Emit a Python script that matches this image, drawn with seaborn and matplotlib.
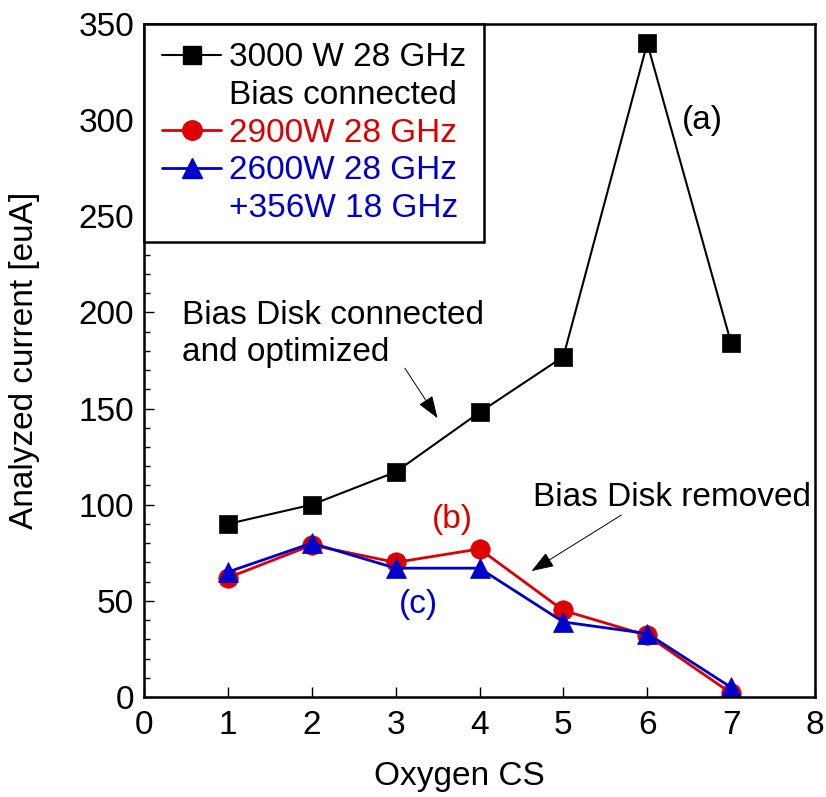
import matplotlib
matplotlib.use("Agg")
import matplotlib.pyplot as plt
from matplotlib.lines import Line2D
from matplotlib.ticker import MultipleLocator
import numpy as np
import pandas as pd
import seaborn as sns

# Oxygen charge states and analysed currents [euA]
charge_states = [1, 2, 3, 4, 5, 6, 7]
current_3000w_bias = [90, 100, 117, 148, 177, 340, 184]
current_2900w = [62, 79, 70, 77, 45, 32, 2]
current_2600w_356w = [65, 80, 67, 67, 39, 33, 5]

legend_labels = ["3000 W 28 GHz", "Bias connected", "2900W 28 GHz",
                 "2600W 28 GHz", "+356W 18 GHz"]
x_tick_values = [0, 1, 2, 3, 4, 5, 6, 7, 8]
y_tick_values = [0, 50, 100, 150, 200, 250, 300, 350]

BLACK = "#000000"
RED = "#dd0000"
BLUE = "#0000cc"

sns.set_style("ticks")
plt.rcParams["font.family"] = ["Liberation Sans", "DejaVu Sans"]
plt.rcParams["text.color"] = "black"
plt.rcParams["axes.labelcolor"] = "black"
plt.rcParams["xtick.color"] = "black"
plt.rcParams["ytick.color"] = "black"
FS = 24

fig = plt.figure(figsize=(8.26, 7.97), dpi=100)
ax = fig.add_axes([144 / 826, 1 - 697 / 797, 671 / 826, 673 / 797])

series = [
    (current_3000w_bias, BLACK, "s", 13, 1.5),
    (current_2900w, RED, "o", 14, 2.0),
    (current_2600w_356w, BLUE, "^", 15, 2.0),
]
for values, color, marker, ms, lw in series:
    df = pd.DataFrame({"cs": charge_states, "current": values})
    sns.lineplot(data=df, x="cs", y="current", ax=ax, color=color,
                 marker=marker, markersize=ms, linewidth=lw,
                 markeredgecolor=color, markeredgewidth=0.5,
                 legend=False, estimator=None, sort=False)

ax.set_xlim(0, 8)
ax.set_ylim(0, 350)
ax.set_xticks(x_tick_values)
ax.set_xticklabels([str(v) for v in x_tick_values])
ax.set_yticks(y_tick_values)
ax.set_yticklabels([str(v) for v in y_tick_values])
ax.yaxis.set_minor_locator(MultipleLocator(10))
ax.tick_params(axis="both", which="major", direction="in", length=7.5,
               width=1.0, labelsize=FS, color="black", labelcolor="black",
               pad=9)
ax.tick_params(axis="y", which="minor", direction="in", length=4.5,
               width=1.0, color="black", left=True)
ax.tick_params(axis="y", which="major", pad=7)
ax.tick_params(top=False, right=False)
for sp in ax.spines.values():
    sp.set_visible(True)
    sp.set_linewidth(1.8)
    sp.set_color("black")

ax.set_xlabel("Oxygen CS", fontsize=FS)
ax.set_ylabel("Analyzed current [euA]", fontsize=FS)
ax.xaxis.set_label_coords(0.47, -0.095)
ax.yaxis.set_label_coords(-0.155, 0.5)

# Legend: five text rows, two of them continuation lines without a handle
handles = [
    Line2D([], [], color=BLACK, marker="s", markersize=13, linewidth=1.5),
    Line2D([], [], linestyle="none"),
    Line2D([], [], color=RED, marker="o", markersize=14, linewidth=2.0),
    Line2D([], [], color=BLUE, marker="^", markersize=15, linewidth=2.0),
    Line2D([], [], linestyle="none"),
]
leg = ax.legend(handles, legend_labels, loc="upper left",
                bbox_to_anchor=(0, 1), borderaxespad=0, fontsize=FS,
                frameon=True, fancybox=False, framealpha=1,
                edgecolor="black", handlelength=1.75, handletextpad=0.25,
                labelspacing=0.2, borderpad=0.55)
leg.get_frame().set_linewidth(1.8)
for txt, col in zip(leg.get_texts(), [BLACK, BLACK, RED, BLUE, BLUE]):
    txt.set_color(col)

# Annotations
ax.text(6.66, 300, "(a)", fontsize=FS, color=BLACK, ha="center", va="center")
ax.text(3.68, 92.5, "(b)", fontsize=FS, color=RED, ha="center", va="center")
ax.text(3.27, 48, "(c)", fontsize=FS, color=BLUE, ha="center", va="center")

arrow_kw = dict(arrowstyle="-|>,head_length=0.7,head_width=0.25",
                color="black", lw=0.7, shrinkA=0, shrinkB=0,
                mutation_scale=20)
ax.text(0.45, 206.5, "Bias Disk connected\nand optimized", fontsize=FS,
        ha="left", va="top", linespacing=1.27)
ax.annotate("", xy=(3.50, 145), xytext=(3.11, 171), arrowprops=arrow_kw)

ax.text(4.64, 112, "Bias Disk removed", fontsize=FS, ha="left", va="top")
ax.annotate("", xy=(4.62, 65.5), xytext=(5.69, 94.6), arrowprops=arrow_kw)

fig.savefig("out.png", dpi=100)
